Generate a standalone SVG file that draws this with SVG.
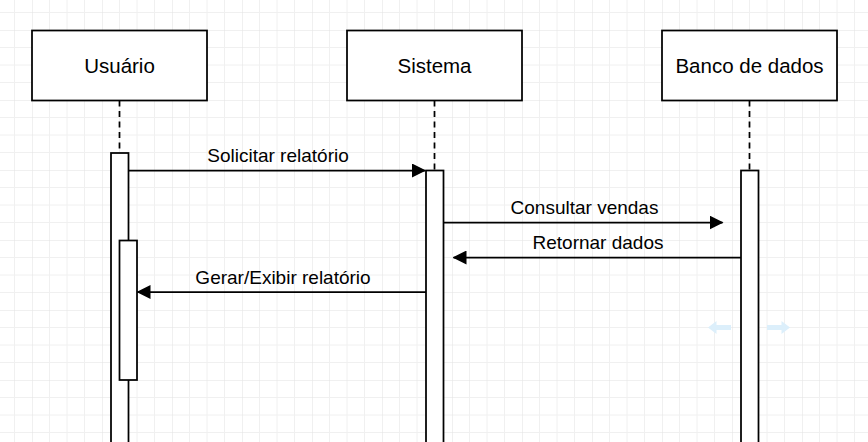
<svg xmlns="http://www.w3.org/2000/svg" width="868" height="442" viewBox="0 0 868 442">
<defs>
<pattern id="grid" x="32" y="30" width="70" height="70" patternUnits="userSpaceOnUse">
<path d="M17.5 0V70M35 0V70M52.5 0V70M0 17.5H70M0 35H70M0 52.5H70" fill="none" stroke="#f0f0f0" stroke-width="1"/>
<path d="M0 0V70M0 0H70" fill="none" stroke="#e2e2e2" stroke-width="1"/>
</pattern>
<marker id="arr" viewBox="0 0 14 14" refX="13" refY="7" markerWidth="14" markerHeight="14" markerUnits="userSpaceOnUse" orient="auto">
<path d="M0 0L14 7L0 14Z" fill="#000"/>
</marker>
<style>
.box{fill:#fff;stroke:#000;stroke-width:1.75}
.title{font-family:"Liberation Sans",Arial,sans-serif;font-size:20.5px;fill:#000;text-anchor:middle}
.life{stroke:#000;stroke-width:1.75;stroke-dasharray:6 4.5;fill:none}
.act{fill:#fff;stroke:#000;stroke-width:1.75}
.msg{stroke:#000;stroke-width:1.75;fill:none;marker-end:url(#arr)}
.lbl{font-family:"Liberation Sans",Arial,sans-serif;font-size:19px;fill:#000;text-anchor:middle}
.hint{fill:#dceffb}
</style>
</defs>
<rect width="868" height="442" fill="#fff"/>
<rect width="868" height="442" fill="url(#grid)"/>

<g id="usuario">
<rect class="box" x="32" y="30.5" width="175" height="70"/>
<text class="title" x="119.5" y="73">Usuário</text>
<line class="life" x1="119.5" y1="100.5" x2="119.5" y2="153"/>
<rect class="act" x="111" y="153" width="17.5" height="300"/>
<rect class="act" x="119.5" y="240.5" width="17.5" height="139.5"/>
</g>

<g id="sistema">
<rect class="box" x="347" y="30.5" width="175" height="70"/>
<text class="title" x="434.5" y="73">Sistema</text>
<line class="life" x1="434.5" y1="100.5" x2="434.5" y2="170.5"/>
<rect class="act" x="426" y="170.5" width="17.5" height="290"/>
</g>

<g id="banco">
<rect class="box" x="662" y="30.5" width="175" height="70"/>
<text class="title" x="749.5" y="73">Banco de dados</text>
<line class="life" x1="749.5" y1="100.5" x2="749.5" y2="170.5"/>
<rect class="act" x="741" y="170.5" width="17.5" height="290"/>
</g>

<g id="connectors">
<line class="msg" x1="128.5" y1="170.5" x2="425" y2="170.5"/>
<text class="lbl" x="278" y="161.5">Solicitar relatório</text>
<line class="msg" x1="443.5" y1="222.5" x2="722.5" y2="222.5"/>
<text class="lbl" x="584.5" y="214">Consultar vendas</text>
<line class="msg" x1="741" y1="257.5" x2="453.5" y2="257.5"/>
<text class="lbl" x="598" y="249">Retornar dados</text>
<line class="msg" x1="426" y1="292" x2="137.5" y2="292"/>
<text class="lbl" x="283" y="283.5">Gerar/Exibir relatório</text>
</g>

<g id="hints">
<path class="hint" d="M708 327.5L716.5 321V325H731V330H716.5V334Z"/>
<path class="hint" d="M790 327.5L781.5 321V325H767V330H781.5V334Z"/>
</g>
</svg>
